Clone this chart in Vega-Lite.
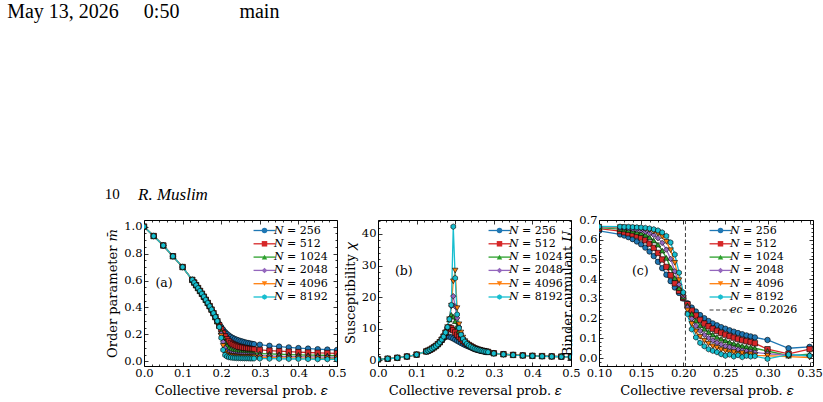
{
  "$schema": "https://vega.github.io/schema/vega-lite/v6.json",
  "background": "white",
  "padding": {"left": 7, "top": 2, "right": 2, "bottom": 2},
  "title": {
    "text": "May 13, 2026\u00a0\u00a0\u00a0\u00a0\u00a00:50\u00a0\u00a0\u00a0\u00a0\u00a0\u00a0\u00a0\u00a0\u00a0\u00a0\u00a0\u00a0main",
    "subtitle": "\u200b\u00a0\u00a0\u00a0\u00a0\u00a0\u00a0\u00a0\u00a0\u00a0\u00a0\u00a0\u00a0\u00a0\u00a0\u00a0\u00a0\u00a0\u00a0\u00a0\u00a0\u00a0\u00a0\u00a0\u00a0\u00a0\u00a010",
    "anchor": "start",
    "frame": "bounds",
    "dx": -99,
    "offset": -17,
    "font": "Liberation Serif",
    "fontSize": 20,
    "subtitleFont": "Liberation Serif",
    "subtitleFontSize": 15,
    "subtitleColor": "black",
    "subtitlePadding": 165
  },
  "datasets": {
    "runs": [
      {"N":256,"eps":0,"m":1,"chi":0.3},
      {"N":256,"eps":0.025,"m":0.93,"chi":0.5},
      {"N":256,"eps":0.05,"m":0.86,"chi":0.8},
      {"N":256,"eps":0.075,"m":0.78,"chi":1.2},
      {"N":256,"eps":0.1,"m":0.7,"chi":1.8,"U":0.645},
      {"N":256,"eps":0.125,"m":0.605,"chi":2.8,"U":0.627},
      {"N":256,"eps":0.13,"m":0.585,"chi":3.05,"U":0.621},
      {"N":256,"eps":0.135,"m":0.565,"chi":3.35,"U":0.613},
      {"N":256,"eps":0.14,"m":0.544,"chi":3.7,"U":0.603},
      {"N":256,"eps":0.145,"m":0.523,"chi":4.1,"U":0.591},
      {"N":256,"eps":0.15,"m":0.502,"chi":4.5,"U":0.577},
      {"N":256,"eps":0.155,"m":0.48,"chi":5.0,"U":0.56},
      {"N":256,"eps":0.16,"m":0.457,"chi":5.6,"U":0.54},
      {"N":256,"eps":0.165,"m":0.434,"chi":6.3,"U":0.517},
      {"N":256,"eps":0.17,"m":0.408,"chi":7.0,"U":0.488},
      {"N":256,"eps":0.175,"m":0.382,"chi":7.45,"U":0.456},
      {"N":256,"eps":0.18,"m":0.355,"chi":7.6,"U":0.423},
      {"N":256,"eps":0.185,"m":0.328,"chi":7.45,"U":0.39},
      {"N":256,"eps":0.19,"m":0.302,"chi":7.2,"U":0.358},
      {"N":256,"eps":0.195,"m":0.277,"chi":6.9,"U":0.33},
      {"N":256,"eps":0.2,"m":0.255,"chi":6.55,"U":0.302},
      {"N":256,"eps":0.205,"m":0.235,"chi":6.2,"U":0.278},
      {"N":256,"eps":0.21,"m":0.218,"chi":5.85,"U":0.256},
      {"N":256,"eps":0.215,"m":0.204,"chi":5.5,"U":0.236},
      {"N":256,"eps":0.22,"m":0.192,"chi":5.18,"U":0.218},
      {"N":256,"eps":0.225,"m":0.182,"chi":4.88,"U":0.202},
      {"N":256,"eps":0.23,"m":0.174,"chi":4.6,"U":0.188},
      {"N":256,"eps":0.235,"m":0.167,"chi":4.35,"U":0.176},
      {"N":256,"eps":0.24,"m":0.161,"chi":4.12,"U":0.166},
      {"N":256,"eps":0.245,"m":0.156,"chi":3.85,"U":0.157},
      {"N":256,"eps":0.25,"m":0.151,"chi":3.6,"U":0.149},
      {"N":256,"eps":0.255,"m":0.147,"chi":3.42,"U":0.141},
      {"N":256,"eps":0.26,"m":0.143,"chi":3.26,"U":0.134},
      {"N":256,"eps":0.265,"m":0.139,"chi":3.11,"U":0.127},
      {"N":256,"eps":0.27,"m":0.136,"chi":2.98,"U":0.121},
      {"N":256,"eps":0.275,"m":0.133,"chi":2.86,"U":0.115},
      {"N":256,"eps":0.28,"m":0.13,"chi":2.75,"U":0.11},
      {"N":256,"eps":0.285,"m":0.128,"chi":2.65,"U":0.105},
      {"N":256,"eps":0.3,"m":0.124,"chi":2.25,"U":0.092},
      {"N":256,"eps":0.325,"m":0.116,"chi":1.95,"U":0.05},
      {"N":256,"eps":0.35,"m":0.11,"chi":1.73,"U":0.057},
      {"N":256,"eps":0.375,"m":0.104,"chi":1.56},
      {"N":256,"eps":0.4,"m":0.099,"chi":1.43},
      {"N":256,"eps":0.425,"m":0.095,"chi":1.33},
      {"N":256,"eps":0.45,"m":0.091,"chi":1.25},
      {"N":256,"eps":0.475,"m":0.088,"chi":1.18},
      {"N":256,"eps":0.5,"m":0.085,"chi":1.12},

      {"N":512,"eps":0,"m":1,"chi":0.3},
      {"N":512,"eps":0.025,"m":0.93,"chi":0.5},
      {"N":512,"eps":0.05,"m":0.86,"chi":0.8},
      {"N":512,"eps":0.075,"m":0.78,"chi":1.2},
      {"N":512,"eps":0.1,"m":0.7,"chi":1.8,"U":0.656},
      {"N":512,"eps":0.125,"m":0.605,"chi":2.8,"U":0.644},
      {"N":512,"eps":0.13,"m":0.585,"chi":3.05,"U":0.638},
      {"N":512,"eps":0.135,"m":0.565,"chi":3.35,"U":0.633},
      {"N":512,"eps":0.14,"m":0.544,"chi":3.7,"U":0.628},
      {"N":512,"eps":0.145,"m":0.523,"chi":4.1,"U":0.621},
      {"N":512,"eps":0.15,"m":0.502,"chi":4.55,"U":0.611},
      {"N":512,"eps":0.155,"m":0.48,"chi":5.1,"U":0.597},
      {"N":512,"eps":0.16,"m":0.457,"chi":5.7,"U":0.58},
      {"N":512,"eps":0.165,"m":0.434,"chi":6.5,"U":0.559},
      {"N":512,"eps":0.17,"m":0.41,"chi":7.5,"U":0.533},
      {"N":512,"eps":0.175,"m":0.384,"chi":8.7,"U":0.5},
      {"N":512,"eps":0.18,"m":0.357,"chi":9.8,"U":0.462},
      {"N":512,"eps":0.185,"m":0.328,"chi":10.4,"U":0.42},
      {"N":512,"eps":0.19,"m":0.298,"chi":10.1,"U":0.379},
      {"N":512,"eps":0.195,"m":0.268,"chi":9.5,"U":0.341},
      {"N":512,"eps":0.2,"m":0.238,"chi":8.8,"U":0.305},
      {"N":512,"eps":0.205,"m":0.21,"chi":8.1,"U":0.273},
      {"N":512,"eps":0.21,"m":0.185,"chi":7.4,"U":0.241},
      {"N":512,"eps":0.215,"m":0.164,"chi":6.8,"U":0.216},
      {"N":512,"eps":0.22,"m":0.148,"chi":6.2,"U":0.194},
      {"N":512,"eps":0.225,"m":0.136,"chi":5.7,"U":0.175},
      {"N":512,"eps":0.23,"m":0.127,"chi":5.25,"U":0.161},
      {"N":512,"eps":0.235,"m":0.12,"chi":4.85,"U":0.149},
      {"N":512,"eps":0.24,"m":0.114,"chi":4.5,"U":0.138},
      {"N":512,"eps":0.245,"m":0.109,"chi":4.15,"U":0.128},
      {"N":512,"eps":0.25,"m":0.105,"chi":3.8,"U":0.119},
      {"N":512,"eps":0.255,"m":0.102,"chi":3.58,"U":0.111},
      {"N":512,"eps":0.26,"m":0.099,"chi":3.38,"U":0.104},
      {"N":512,"eps":0.265,"m":0.096,"chi":3.2,"U":0.097},
      {"N":512,"eps":0.27,"m":0.094,"chi":3.04,"U":0.091},
      {"N":512,"eps":0.275,"m":0.092,"chi":2.9,"U":0.086},
      {"N":512,"eps":0.28,"m":0.09,"chi":2.77,"U":0.081},
      {"N":512,"eps":0.285,"m":0.088,"chi":2.65,"U":0.075},
      {"N":512,"eps":0.3,"m":0.085,"chi":2.23,"U":0.045},
      {"N":512,"eps":0.325,"m":0.08,"chi":1.93,"U":0.022},
      {"N":512,"eps":0.35,"m":0.076,"chi":1.71,"U":0.046},
      {"N":512,"eps":0.375,"m":0.072,"chi":1.55},
      {"N":512,"eps":0.4,"m":0.069,"chi":1.42},
      {"N":512,"eps":0.425,"m":0.066,"chi":1.32},
      {"N":512,"eps":0.45,"m":0.064,"chi":1.24},
      {"N":512,"eps":0.475,"m":0.062,"chi":1.17},
      {"N":512,"eps":0.5,"m":0.06,"chi":1.11},

      {"N":1024,"eps":0,"m":1,"chi":0.3},
      {"N":1024,"eps":0.025,"m":0.93,"chi":0.5},
      {"N":1024,"eps":0.05,"m":0.86,"chi":0.8},
      {"N":1024,"eps":0.075,"m":0.78,"chi":1.2},
      {"N":1024,"eps":0.1,"m":0.7,"chi":1.8,"U":0.661},
      {"N":1024,"eps":0.125,"m":0.605,"chi":2.8,"U":0.654},
      {"N":1024,"eps":0.13,"m":0.585,"chi":3.05,"U":0.652},
      {"N":1024,"eps":0.135,"m":0.565,"chi":3.35,"U":0.649},
      {"N":1024,"eps":0.14,"m":0.544,"chi":3.7,"U":0.645},
      {"N":1024,"eps":0.145,"m":0.523,"chi":4.1,"U":0.638},
      {"N":1024,"eps":0.15,"m":0.502,"chi":4.55,"U":0.633},
      {"N":1024,"eps":0.155,"m":0.48,"chi":5.1,"U":0.625},
      {"N":1024,"eps":0.16,"m":0.457,"chi":5.75,"U":0.613},
      {"N":1024,"eps":0.165,"m":0.434,"chi":6.55,"U":0.596},
      {"N":1024,"eps":0.17,"m":0.41,"chi":7.5,"U":0.575},
      {"N":1024,"eps":0.175,"m":0.385,"chi":8.8,"U":0.545},
      {"N":1024,"eps":0.18,"m":0.358,"chi":10.6,"U":0.508},
      {"N":1024,"eps":0.185,"m":0.329,"chi":12.9,"U":0.459},
      {"N":1024,"eps":0.19,"m":0.297,"chi":14.4,"U":0.405},
      {"N":1024,"eps":0.195,"m":0.262,"chi":13.8,"U":0.355},
      {"N":1024,"eps":0.2,"m":0.222,"chi":12.4,"U":0.31},
      {"N":1024,"eps":0.205,"m":0.18,"chi":10.8,"U":0.267},
      {"N":1024,"eps":0.21,"m":0.143,"chi":9.3,"U":0.224},
      {"N":1024,"eps":0.215,"m":0.117,"chi":8.1,"U":0.19},
      {"N":1024,"eps":0.22,"m":0.1,"chi":7.1,"U":0.166},
      {"N":1024,"eps":0.225,"m":0.09,"chi":6.3,"U":0.148},
      {"N":1024,"eps":0.23,"m":0.083,"chi":5.6,"U":0.132},
      {"N":1024,"eps":0.235,"m":0.078,"chi":5.05,"U":0.119},
      {"N":1024,"eps":0.24,"m":0.074,"chi":4.6,"U":0.107},
      {"N":1024,"eps":0.245,"m":0.071,"chi":4.2,"U":0.098},
      {"N":1024,"eps":0.25,"m":0.069,"chi":3.85,"U":0.089},
      {"N":1024,"eps":0.255,"m":0.067,"chi":3.6,"U":0.081},
      {"N":1024,"eps":0.26,"m":0.066,"chi":3.4,"U":0.074},
      {"N":1024,"eps":0.265,"m":0.064,"chi":3.22,"U":0.068},
      {"N":1024,"eps":0.27,"m":0.063,"chi":3.05,"U":0.062},
      {"N":1024,"eps":0.275,"m":0.062,"chi":2.9,"U":0.058},
      {"N":1024,"eps":0.28,"m":0.061,"chi":2.77,"U":0.054},
      {"N":1024,"eps":0.285,"m":0.06,"chi":2.65,"U":0.05},
      {"N":1024,"eps":0.3,"m":0.058,"chi":2.22,"U":0.036},
      {"N":1024,"eps":0.325,"m":0.056,"chi":1.92,"U":0.012},
      {"N":1024,"eps":0.35,"m":0.053,"chi":1.7,"U":0.02},
      {"N":1024,"eps":0.375,"m":0.051,"chi":1.54},
      {"N":1024,"eps":0.4,"m":0.049,"chi":1.41},
      {"N":1024,"eps":0.425,"m":0.047,"chi":1.31},
      {"N":1024,"eps":0.45,"m":0.046,"chi":1.23},
      {"N":1024,"eps":0.475,"m":0.044,"chi":1.16},
      {"N":1024,"eps":0.5,"m":0.043,"chi":1.1},

      {"N":2048,"eps":0,"m":1,"chi":0.3},
      {"N":2048,"eps":0.025,"m":0.93,"chi":0.5},
      {"N":2048,"eps":0.05,"m":0.86,"chi":0.8},
      {"N":2048,"eps":0.075,"m":0.78,"chi":1.2},
      {"N":2048,"eps":0.1,"m":0.7,"chi":1.8,"U":0.664},
      {"N":2048,"eps":0.125,"m":0.605,"chi":2.8,"U":0.66},
      {"N":2048,"eps":0.13,"m":0.585,"chi":3.05,"U":0.659},
      {"N":2048,"eps":0.135,"m":0.565,"chi":3.35,"U":0.657},
      {"N":2048,"eps":0.14,"m":0.544,"chi":3.7,"U":0.654},
      {"N":2048,"eps":0.145,"m":0.523,"chi":4.1,"U":0.651},
      {"N":2048,"eps":0.15,"m":0.502,"chi":4.55,"U":0.648},
      {"N":2048,"eps":0.155,"m":0.48,"chi":5.1,"U":0.641},
      {"N":2048,"eps":0.16,"m":0.457,"chi":5.75,"U":0.633},
      {"N":2048,"eps":0.165,"m":0.434,"chi":6.55,"U":0.624},
      {"N":2048,"eps":0.17,"m":0.41,"chi":7.5,"U":0.608},
      {"N":2048,"eps":0.175,"m":0.385,"chi":8.8,"U":0.584},
      {"N":2048,"eps":0.18,"m":0.358,"chi":10.5,"U":0.55},
      {"N":2048,"eps":0.185,"m":0.33,"chi":13.1,"U":0.503},
      {"N":2048,"eps":0.19,"m":0.298,"chi":17.2,"U":0.44},
      {"N":2048,"eps":0.195,"m":0.258,"chi":20.3,"U":0.373},
      {"N":2048,"eps":0.2,"m":0.205,"chi":17.0,"U":0.316},
      {"N":2048,"eps":0.205,"m":0.145,"chi":13.4,"U":0.256},
      {"N":2048,"eps":0.21,"m":0.1,"chi":10.6,"U":0.2},
      {"N":2048,"eps":0.215,"m":0.077,"chi":8.6,"U":0.163},
      {"N":2048,"eps":0.22,"m":0.066,"chi":7.2,"U":0.138},
      {"N":2048,"eps":0.225,"m":0.06,"chi":6.2,"U":0.118},
      {"N":2048,"eps":0.23,"m":0.056,"chi":5.45,"U":0.102},
      {"N":2048,"eps":0.235,"m":0.053,"chi":4.9,"U":0.089},
      {"N":2048,"eps":0.24,"m":0.051,"chi":4.45,"U":0.078},
      {"N":2048,"eps":0.245,"m":0.05,"chi":4.1,"U":0.069},
      {"N":2048,"eps":0.25,"m":0.049,"chi":3.75,"U":0.06},
      {"N":2048,"eps":0.255,"m":0.048,"chi":3.52,"U":0.055},
      {"N":2048,"eps":0.26,"m":0.047,"chi":3.33,"U":0.048},
      {"N":2048,"eps":0.265,"m":0.046,"chi":3.16,"U":0.042},
      {"N":2048,"eps":0.27,"m":0.045,"chi":3.01,"U":0.038},
      {"N":2048,"eps":0.275,"m":0.044,"chi":2.87,"U":0.035},
      {"N":2048,"eps":0.28,"m":0.044,"chi":2.75,"U":0.032},
      {"N":2048,"eps":0.285,"m":0.043,"chi":2.63,"U":0.029},
      {"N":2048,"eps":0.3,"m":0.042,"chi":2.21,"U":0.022},
      {"N":2048,"eps":0.325,"m":0.04,"chi":1.91,"U":0.015},
      {"N":2048,"eps":0.35,"m":0.038,"chi":1.69,"U":0.012},
      {"N":2048,"eps":0.375,"m":0.036,"chi":1.53},
      {"N":2048,"eps":0.4,"m":0.035,"chi":1.4},
      {"N":2048,"eps":0.425,"m":0.034,"chi":1.3},
      {"N":2048,"eps":0.45,"m":0.033,"chi":1.22},
      {"N":2048,"eps":0.475,"m":0.032,"chi":1.15},
      {"N":2048,"eps":0.5,"m":0.031,"chi":1.09},

      {"N":4096,"eps":0,"m":1,"chi":0.3},
      {"N":4096,"eps":0.025,"m":0.93,"chi":0.5},
      {"N":4096,"eps":0.05,"m":0.86,"chi":0.8},
      {"N":4096,"eps":0.075,"m":0.78,"chi":1.2},
      {"N":4096,"eps":0.1,"m":0.7,"chi":1.8,"U":0.666},
      {"N":4096,"eps":0.125,"m":0.605,"chi":2.8,"U":0.664},
      {"N":4096,"eps":0.13,"m":0.585,"chi":3.05,"U":0.663},
      {"N":4096,"eps":0.135,"m":0.565,"chi":3.35,"U":0.662},
      {"N":4096,"eps":0.14,"m":0.544,"chi":3.7,"U":0.661},
      {"N":4096,"eps":0.145,"m":0.523,"chi":4.1,"U":0.659},
      {"N":4096,"eps":0.15,"m":0.502,"chi":4.55,"U":0.656},
      {"N":4096,"eps":0.155,"m":0.48,"chi":5.1,"U":0.653},
      {"N":4096,"eps":0.16,"m":0.457,"chi":5.75,"U":0.649},
      {"N":4096,"eps":0.165,"m":0.434,"chi":6.55,"U":0.641},
      {"N":4096,"eps":0.17,"m":0.41,"chi":7.5,"U":0.631},
      {"N":4096,"eps":0.175,"m":0.385,"chi":8.8,"U":0.616},
      {"N":4096,"eps":0.18,"m":0.358,"chi":10.5,"U":0.589},
      {"N":4096,"eps":0.185,"m":0.33,"chi":13.0,"U":0.547},
      {"N":4096,"eps":0.19,"m":0.299,"chi":17.3,"U":0.483},
      {"N":4096,"eps":0.195,"m":0.256,"chi":25.0,"U":0.395},
      {"N":4096,"eps":0.2,"m":0.19,"chi":28.4,"U":0.323},
      {"N":4096,"eps":0.205,"m":0.115,"chi":16.5,"U":0.242},
      {"N":4096,"eps":0.21,"m":0.068,"chi":11.4,"U":0.173},
      {"N":4096,"eps":0.215,"m":0.052,"chi":8.8,"U":0.135},
      {"N":4096,"eps":0.22,"m":0.045,"chi":7.2,"U":0.108},
      {"N":4096,"eps":0.225,"m":0.041,"chi":6.1,"U":0.088},
      {"N":4096,"eps":0.23,"m":0.039,"chi":5.35,"U":0.073},
      {"N":4096,"eps":0.235,"m":0.037,"chi":4.8,"U":0.06},
      {"N":4096,"eps":0.24,"m":0.036,"chi":4.37,"U":0.052},
      {"N":4096,"eps":0.245,"m":0.035,"chi":4.0,"U":0.043},
      {"N":4096,"eps":0.25,"m":0.034,"chi":3.7,"U":0.037},
      {"N":4096,"eps":0.255,"m":0.034,"chi":3.48,"U":0.03},
      {"N":4096,"eps":0.26,"m":0.033,"chi":3.3,"U":0.03},
      {"N":4096,"eps":0.265,"m":0.033,"chi":3.13,"U":0.022},
      {"N":4096,"eps":0.27,"m":0.032,"chi":2.98,"U":0.025},
      {"N":4096,"eps":0.275,"m":0.032,"chi":2.85,"U":0.017},
      {"N":4096,"eps":0.28,"m":0.031,"chi":2.73,"U":0.02},
      {"N":4096,"eps":0.285,"m":0.031,"chi":2.62,"U":0.014},
      {"N":4096,"eps":0.3,"m":0.03,"chi":2.2,"U":0.012},
      {"N":4096,"eps":0.325,"m":0.029,"chi":1.9,"U":0.008},
      {"N":4096,"eps":0.35,"m":0.027,"chi":1.68,"U":0.003},
      {"N":4096,"eps":0.375,"m":0.026,"chi":1.52},
      {"N":4096,"eps":0.4,"m":0.025,"chi":1.39},
      {"N":4096,"eps":0.425,"m":0.024,"chi":1.29},
      {"N":4096,"eps":0.45,"m":0.023,"chi":1.21},
      {"N":4096,"eps":0.475,"m":0.023,"chi":1.14},
      {"N":4096,"eps":0.5,"m":0.022,"chi":1.08},

      {"N":8192,"eps":0,"m":1,"chi":0.3},
      {"N":8192,"eps":0.025,"m":0.93,"chi":0.5},
      {"N":8192,"eps":0.05,"m":0.86,"chi":0.8},
      {"N":8192,"eps":0.075,"m":0.78,"chi":1.2},
      {"N":8192,"eps":0.1,"m":0.7,"chi":1.8,"U":0.667},
      {"N":8192,"eps":0.125,"m":0.605,"chi":2.8,"U":0.666},
      {"N":8192,"eps":0.13,"m":0.585,"chi":3.05,"U":0.665},
      {"N":8192,"eps":0.135,"m":0.565,"chi":3.35,"U":0.665},
      {"N":8192,"eps":0.14,"m":0.544,"chi":3.7,"U":0.664},
      {"N":8192,"eps":0.145,"m":0.523,"chi":4.1,"U":0.663},
      {"N":8192,"eps":0.15,"m":0.502,"chi":4.55,"U":0.662},
      {"N":8192,"eps":0.155,"m":0.48,"chi":5.1,"U":0.66},
      {"N":8192,"eps":0.16,"m":0.457,"chi":5.75,"U":0.657},
      {"N":8192,"eps":0.165,"m":0.434,"chi":6.55,"U":0.653},
      {"N":8192,"eps":0.17,"m":0.41,"chi":7.5,"U":0.647},
      {"N":8192,"eps":0.175,"m":0.385,"chi":8.8,"U":0.637},
      {"N":8192,"eps":0.18,"m":0.358,"chi":10.5,"U":0.619},
      {"N":8192,"eps":0.185,"m":0.33,"chi":13.0,"U":0.586},
      {"N":8192,"eps":0.19,"m":0.3,"chi":17.5,"U":0.525},
      {"N":8192,"eps":0.195,"m":0.255,"chi":42.3,"U":0.433},
      {"N":8192,"eps":0.2,"m":0.175,"chi":26.0,"U":0.333},
      {"N":8192,"eps":0.205,"m":0.085,"chi":14.5,"U":0.223},
      {"N":8192,"eps":0.21,"m":0.047,"chi":10.2,"U":0.146},
      {"N":8192,"eps":0.215,"m":0.036,"chi":8.1,"U":0.105},
      {"N":8192,"eps":0.22,"m":0.031,"chi":6.8,"U":0.077},
      {"N":8192,"eps":0.225,"m":0.029,"chi":5.9,"U":0.06},
      {"N":8192,"eps":0.23,"m":0.027,"chi":5.2,"U":0.045},
      {"N":8192,"eps":0.235,"m":0.026,"chi":4.7,"U":0.037},
      {"N":8192,"eps":0.24,"m":0.025,"chi":4.3,"U":0.03},
      {"N":8192,"eps":0.245,"m":0.025,"chi":3.95,"U":0.02},
      {"N":8192,"eps":0.25,"m":0.024,"chi":3.66,"U":0.012},
      {"N":8192,"eps":0.255,"m":0.024,"chi":3.45,"U":0.018},
      {"N":8192,"eps":0.26,"m":0.023,"chi":3.27,"U":0.008},
      {"N":8192,"eps":0.265,"m":0.023,"chi":3.1,"U":0.015},
      {"N":8192,"eps":0.27,"m":0.023,"chi":2.96,"U":0.005},
      {"N":8192,"eps":0.275,"m":0.022,"chi":2.83,"U":0.012},
      {"N":8192,"eps":0.28,"m":0.022,"chi":2.71,"U":0.008},
      {"N":8192,"eps":0.285,"m":0.022,"chi":2.6,"U":0.01},
      {"N":8192,"eps":0.3,"m":0.021,"chi":2.19,"U":-0.004},
      {"N":8192,"eps":0.325,"m":0.02,"chi":1.89,"U":0.018},
      {"N":8192,"eps":0.35,"m":0.019,"chi":1.67,"U":0.012},
      {"N":8192,"eps":0.375,"m":0.018,"chi":1.51},
      {"N":8192,"eps":0.4,"m":0.018,"chi":1.38},
      {"N":8192,"eps":0.425,"m":0.017,"chi":1.28},
      {"N":8192,"eps":0.45,"m":0.016,"chi":1.2},
      {"N":8192,"eps":0.475,"m":0.016,"chi":1.13},
      {"N":8192,"eps":0.5,"m":0.015,"chi":1.07}
    ]
  },
  "spacing": 0,
  "bounds": "flush",
  "hconcat": [
    {
      "width": 193,
      "height": 146,
      "title": {"text": "R. Muslim", "anchor": "start", "frame": "group", "dx": -6, "offset": 16, "font": "Liberation Serif", "fontSize": 17, "fontStyle": "italic", "fontWeight": "normal"},
      "layer": [
        {
          "data": {"name": "runs"},
          "mark": {"type": "line", "strokeWidth": 1.3, "clip": true},
          "encoding": {
            "x": {"field": "eps", "type": "quantitative", "scale": {"domain": [0, 0.5], "nice": false, "zero": false},
              "axis": {"orient": "bottom", "title": "Collective reversal prob. 𝜀",
                "values": [0,0.02,0.04,0.06,0.08,0.1,0.12,0.14,0.16,0.18,0.2,0.22,0.24,0.26,0.28,0.3,0.32,0.34,0.36,0.38,0.4,0.42,0.44,0.46,0.48,0.5],
                "labelExpr": "abs(datum.value*10-round(datum.value*10))<1e-6 ? format(datum.value,'.1f') : ''",
                "tickSize": {"condition": {"test": "abs(datum.value*10-round(datum.value*10))<1e-6", "value": -4}, "value": -2}}},
            "y": {"field": "m", "type": "quantitative", "scale": {"domain": [-0.034, 1.049], "nice": false, "zero": false},
              "axis": {"orient": "left", "title": "Order parameter 𝑚̄",
                "values": [0,0.05,0.1,0.15,0.2,0.25,0.3,0.35,0.4,0.45,0.5,0.55,0.6,0.65,0.7,0.75,0.8,0.85,0.9,0.95,1],
                "labelExpr": "abs(datum.value*5-round(datum.value*5))<1e-6 ? format(datum.value,'.1f') : ''",
                "tickSize": {"condition": {"test": "abs(datum.value*5-round(datum.value*5))<1e-6", "value": -4}, "value": -2}}},
            "stroke": {"field": "N", "type": "nominal",
              "scale": {"domain": [256,512,1024,2048,4096,8192], "range": ["#1f77b4","#d62728","#2ca02c","#9467bd","#ff7f0e","#17becf"]},
              "legend": {"title": null, "legendX": 115, "legendY": 5, "symbolType": "M-4,0H4", "symbolStrokeWidth": 1.3, "labelOpacity": 0, "labelExpr": "'𝑁 = ' + datum.label", "zindex": 1}},
            "order": {"field": "eps", "type": "quantitative"}
          }
        },
        {
          "data": {"name": "runs"},
          "transform": [{"calculate": "'' + datum.N", "as": "Nm"}],
          "mark": {"type": "point", "filled": true, "size": 30, "stroke": "black", "strokeWidth": 0.6, "opacity": 1, "clip": true},
          "encoding": {
            "x": {"field": "eps", "type": "quantitative",
              "axis": {"orient": "top", "title": null, "labels": false,
                "values": [0,0.02,0.04,0.06,0.08,0.1,0.12,0.14,0.16,0.18,0.2,0.22,0.24,0.26,0.28,0.3,0.32,0.34,0.36,0.38,0.4,0.42,0.44,0.46,0.48,0.5],
                "tickSize": {"condition": {"test": "abs(datum.value*10-round(datum.value*10))<1e-6", "value": -4}, "value": -2}}},
            "y": {"field": "m", "type": "quantitative",
              "axis": {"orient": "right", "title": null, "labels": false,
                "values": [0,0.05,0.1,0.15,0.2,0.25,0.3,0.35,0.4,0.45,0.5,0.55,0.6,0.65,0.7,0.75,0.8,0.85,0.9,0.95,1],
                "tickSize": {"condition": {"test": "abs(datum.value*5-round(datum.value*5))<1e-6", "value": -4}, "value": -2}}},
            "fill": {"field": "Nm", "type": "nominal",
              "scale": {"domain": ["256","512","1024","2048","4096","8192"], "range": ["#1f77b4","#d62728","#2ca02c","#9467bd","#ff7f0e","#17becf"]},
              "legend": {"title": null, "legendX": 115, "legendY": 5, "symbolStrokeColor": "black", "symbolStrokeWidth": 0.6, "symbolOpacity": 1, "labelExpr": "'𝑁 = ' + datum.label", "zindex": 2}},
            "shape": {"field": "Nm", "type": "nominal",
              "scale": {"domain": ["256","512","1024","2048","4096","8192"], "range": ["circle","square","triangle-up","diamond","triangle-down","M0,-1L0.866,-0.5L0.866,0.5L0,1L-0.866,0.5L-0.866,-0.5Z"]},
              "legend": {"title": null, "legendX": 115, "legendY": 5, "symbolStrokeColor": "black", "symbolStrokeWidth": 0.6, "symbolOpacity": 1, "labelExpr": "'𝑁 = ' + datum.label", "zindex": 2}}
          }
        },
        {
          "data": {"values": [{}]},
          "mark": {"type": "text", "fontSize": 12.5},
          "encoding": {
            "x": {"datum": 0.052, "type": "quantitative", "axis": null},
            "y": {"datum": 0.578, "type": "quantitative", "axis": null},
            "text": {"value": "(a)"}
          }
        }
      ],
      "resolve": {"axis": {"x": "independent", "y": "independent"}}
    },
    {
      "width": 41,
      "height": 146,
      "view": {"stroke": null},
      "data": {"values": []},
      "mark": "point",
      "encoding": {}
    },
    {
      "width": 193,
      "height": 146,
      "layer": [
        {
          "data": {"name": "runs"},
          "mark": {"type": "line", "strokeWidth": 1.3, "clip": true},
          "encoding": {
            "x": {"field": "eps", "type": "quantitative", "scale": {"domain": [0, 0.5], "nice": false, "zero": false},
              "axis": {"orient": "bottom", "title": "Collective reversal prob. 𝜀",
                "values": [0,0.02,0.04,0.06,0.08,0.1,0.12,0.14,0.16,0.18,0.2,0.22,0.24,0.26,0.28,0.3,0.32,0.34,0.36,0.38,0.4,0.42,0.44,0.46,0.48,0.5],
                "labelExpr": "abs(datum.value*10-round(datum.value*10))<1e-6 ? format(datum.value,'.1f') : ''",
                "tickSize": {"condition": {"test": "abs(datum.value*10-round(datum.value*10))<1e-6", "value": -4}, "value": -2}}},
            "y": {"field": "chi", "type": "quantitative", "scale": {"domain": [-1.8, 44.4], "nice": false, "zero": false},
              "axis": {"orient": "left", "title": "Susceptibility 𝜒",
                "values": [0,2,4,6,8,10,12,14,16,18,20,22,24,26,28,30,32,34,36,38,40,42,44],
                "labelExpr": "datum.value % 10 == 0 ? format(datum.value,'d') : ''",
                "tickSize": {"condition": {"test": "datum.value % 10 == 0", "value": -4}, "value": -2}}},
            "stroke": {"field": "N", "type": "nominal",
              "scale": {"domain": [256,512,1024,2048,4096,8192], "range": ["#1f77b4","#d62728","#2ca02c","#9467bd","#ff7f0e","#17becf"]},
              "legend": {"title": null, "legendX": 116, "legendY": 5, "symbolType": "M-4,0H4", "symbolStrokeWidth": 1.3, "labelOpacity": 0, "labelExpr": "'𝑁 = ' + datum.label", "zindex": 1}},
            "order": {"field": "eps", "type": "quantitative"}
          }
        },
        {
          "data": {"name": "runs"},
          "transform": [{"calculate": "'' + datum.N", "as": "Nm"}],
          "mark": {"type": "point", "filled": true, "size": 30, "stroke": "black", "strokeWidth": 0.6, "opacity": 1, "clip": true},
          "encoding": {
            "x": {"field": "eps", "type": "quantitative",
              "axis": {"orient": "top", "title": null, "labels": false,
                "values": [0,0.02,0.04,0.06,0.08,0.1,0.12,0.14,0.16,0.18,0.2,0.22,0.24,0.26,0.28,0.3,0.32,0.34,0.36,0.38,0.4,0.42,0.44,0.46,0.48,0.5],
                "tickSize": {"condition": {"test": "abs(datum.value*10-round(datum.value*10))<1e-6", "value": -4}, "value": -2}}},
            "y": {"field": "chi", "type": "quantitative",
              "axis": {"orient": "right", "title": null, "labels": false,
                "values": [0,2,4,6,8,10,12,14,16,18,20,22,24,26,28,30,32,34,36,38,40,42,44],
                "tickSize": {"condition": {"test": "datum.value % 10 == 0", "value": -4}, "value": -2}}},
            "fill": {"field": "Nm", "type": "nominal",
              "scale": {"domain": ["256","512","1024","2048","4096","8192"], "range": ["#1f77b4","#d62728","#2ca02c","#9467bd","#ff7f0e","#17becf"]},
              "legend": {"title": null, "legendX": 116, "legendY": 5, "symbolStrokeColor": "black", "symbolStrokeWidth": 0.6, "symbolOpacity": 1, "labelExpr": "'𝑁 = ' + datum.label", "zindex": 2}},
            "shape": {"field": "Nm", "type": "nominal",
              "scale": {"domain": ["256","512","1024","2048","4096","8192"], "range": ["circle","square","triangle-up","diamond","triangle-down","M0,-1L0.866,-0.5L0.866,0.5L0,1L-0.866,0.5L-0.866,-0.5Z"]},
              "legend": {"title": null, "legendX": 116, "legendY": 5, "symbolStrokeColor": "black", "symbolStrokeWidth": 0.6, "symbolOpacity": 1, "labelExpr": "'𝑁 = ' + datum.label", "zindex": 2}}
          }
        },
        {
          "data": {"values": [{}]},
          "mark": {"type": "text", "fontSize": 12.5},
          "encoding": {
            "x": {"datum": 0.067, "type": "quantitative", "axis": null},
            "y": {"datum": 28.2, "type": "quantitative", "axis": null},
            "text": {"value": "(b)"}
          }
        }
      ],
      "resolve": {"axis": {"x": "independent", "y": "independent"}}
    },
    {
      "width": 28,
      "height": 146,
      "view": {"stroke": null},
      "data": {"values": []},
      "mark": "point",
      "encoding": {}
    },
    {
      "width": 214,
      "height": 146,
      "layer": [
        {
          "data": {"name": "runs"},
          "transform": [{"filter": "isValid(datum.U)"}],
          "mark": {"type": "line", "strokeWidth": 1.3, "clip": true},
          "encoding": {
            "x": {"field": "eps", "type": "quantitative", "scale": {"domain": [0.1, 0.354], "nice": false, "zero": false},
              "axis": {"orient": "bottom", "title": "Collective reversal prob. 𝜀",
                "values": [0.1,0.11,0.12,0.13,0.14,0.15,0.16,0.17,0.18,0.19,0.2,0.21,0.22,0.23,0.24,0.25,0.26,0.27,0.28,0.29,0.3,0.31,0.32,0.33,0.34,0.35],
                "labelExpr": "abs(datum.value*20-round(datum.value*20))<1e-6 ? format(datum.value,'.2f') : ''",
                "tickSize": {"condition": {"test": "abs(datum.value*20-round(datum.value*20))<1e-6", "value": -4}, "value": -2}}},
            "y": {"field": "U", "type": "quantitative", "scale": {"domain": [-0.04, 0.7], "nice": false, "zero": false},
              "axis": {"orient": "left", "title": "Binder cumulant 𝑈",
                "values": [-0.02,0,0.02,0.04,0.06,0.08,0.1,0.12,0.14,0.16,0.18,0.2,0.22,0.24,0.26,0.28,0.3,0.32,0.34,0.36,0.38,0.4,0.42,0.44,0.46,0.48,0.5,0.52,0.54,0.56,0.58,0.6,0.62,0.64,0.66,0.68,0.7],
                "labelExpr": "abs(datum.value*10-round(datum.value*10))<1e-6 ? format(datum.value,'.1f') : ''",
                "tickSize": {"condition": {"test": "abs(datum.value*10-round(datum.value*10))<1e-6", "value": -4}, "value": -2}}},
            "stroke": {"field": "N", "type": "nominal",
              "scale": {"domain": [256,512,1024,2048,4096,8192], "range": ["#1f77b4","#d62728","#2ca02c","#9467bd","#ff7f0e","#17becf"]},
              "legend": {"title": null, "legendX": 116, "legendY": 5, "symbolType": "M-4,0H4", "symbolStrokeWidth": 1.3, "labelOpacity": 0, "labelExpr": "'𝑁 = ' + datum.label", "zindex": 1}},
            "order": {"field": "eps", "type": "quantitative"}
          }
        },
        {
          "data": {"name": "runs"},
          "transform": [{"filter": "isValid(datum.U)"}, {"calculate": "'' + datum.N", "as": "Nm"}],
          "mark": {"type": "point", "filled": true, "size": 30, "stroke": "black", "strokeWidth": 0.6, "opacity": 1, "clip": true},
          "encoding": {
            "x": {"field": "eps", "type": "quantitative",
              "axis": {"orient": "top", "title": null, "labels": false,
                "values": [0.1,0.11,0.12,0.13,0.14,0.15,0.16,0.17,0.18,0.19,0.2,0.21,0.22,0.23,0.24,0.25,0.26,0.27,0.28,0.29,0.3,0.31,0.32,0.33,0.34,0.35],
                "tickSize": {"condition": {"test": "abs(datum.value*20-round(datum.value*20))<1e-6", "value": -4}, "value": -2}}},
            "y": {"field": "U", "type": "quantitative",
              "axis": {"orient": "right", "title": null, "labels": false,
                "values": [-0.02,0,0.02,0.04,0.06,0.08,0.1,0.12,0.14,0.16,0.18,0.2,0.22,0.24,0.26,0.28,0.3,0.32,0.34,0.36,0.38,0.4,0.42,0.44,0.46,0.48,0.5,0.52,0.54,0.56,0.58,0.6,0.62,0.64,0.66,0.68,0.7],
                "tickSize": {"condition": {"test": "abs(datum.value*10-round(datum.value*10))<1e-6", "value": -4}, "value": -2}}},
            "fill": {"field": "Nm", "type": "nominal",
              "scale": {"domain": ["256","512","1024","2048","4096","8192"], "range": ["#1f77b4","#d62728","#2ca02c","#9467bd","#ff7f0e","#17becf"]},
              "legend": {"title": null, "legendX": 116, "legendY": 5, "symbolStrokeColor": "black", "symbolStrokeWidth": 0.6, "symbolOpacity": 1, "labelExpr": "'𝑁 = ' + datum.label", "zindex": 2}},
            "shape": {"field": "Nm", "type": "nominal",
              "scale": {"domain": ["256","512","1024","2048","4096","8192"], "range": ["circle","square","triangle-up","diamond","triangle-down","M0,-1L0.866,-0.5L0.866,0.5L0,1L-0.866,0.5L-0.866,-0.5Z"]},
              "legend": {"title": null, "legendX": 116, "legendY": 5, "symbolStrokeColor": "black", "symbolStrokeWidth": 0.6, "symbolOpacity": 1, "labelExpr": "'𝑁 = ' + datum.label", "zindex": 2}}
          }
        },
        {
          "data": {"values": [{}]},
          "mark": {"type": "text", "fontSize": 12.5},
          "encoding": {
            "x": {"datum": 0.149, "type": "quantitative", "axis": null},
            "y": {"datum": 0.44, "type": "quantitative", "axis": null},
            "text": {"value": "(c)"}
          }
        },
        {
          "data": {"values": [{}]},
          "mark": {"type": "rule", "color": "#3a3a3a", "strokeWidth": 1},
          "encoding": {
            "x": {"datum": 0.2026, "type": "quantitative", "axis": null},
            "strokeDash": {"datum": "ec", "type": "nominal",
              "scale": {"domain": ["ec"], "range": [[4, 2.5]]},
              "legend": {"title": null, "legendX": 116, "legendY": 84.5, "symbolType": "M-4,0H4", "symbolStrokeColor": "#3a3a3a", "symbolStrokeWidth": 1, "labelExpr": "'𝑒𝑐 = 0.2026'", "zindex": 1}}
          }
        }
      ],
      "resolve": {"axis": {"x": "independent", "y": "independent"}}
    }
  ],
  "resolve": {"scale": {"stroke": "independent", "fill": "independent", "shape": "independent", "strokeDash": "independent"}},
  "config": {
    "font": "DejaVu Serif",
    "view": {"stroke": "black", "strokeWidth": 1},
    "axis": {"grid": false, "domain": false, "labelFont": "DejaVu Serif", "labelFontSize": 11.5, "labelColor": "black",
      "titleFont": "DejaVu Serif", "titleFontSize": 13, "titleFontWeight": "normal", "titleColor": "black", "titleLimit": 400,
      "tickColor": "black", "tickWidth": 0.8, "labelFlush": false, "labelOverlap": false},
    "axisX": {"labelPadding": 5, "titlePadding": 4},
    "axisY": {"labelPadding": 6, "titlePadding": 4},
    "legend": {"orient": "none", "direction": "vertical", "padding": 0, "labelFont": "DejaVu Serif", "labelFontSize": 11,
      "labelColor": "black", "labelLimit": 300, "rowPadding": 1.3, "labelOffset": 4, "symbolSize": 30},
    "title": {"color": "black", "fontWeight": "normal"},
    "text": {"font": "DejaVu Serif", "color": "black"}
  }
}
